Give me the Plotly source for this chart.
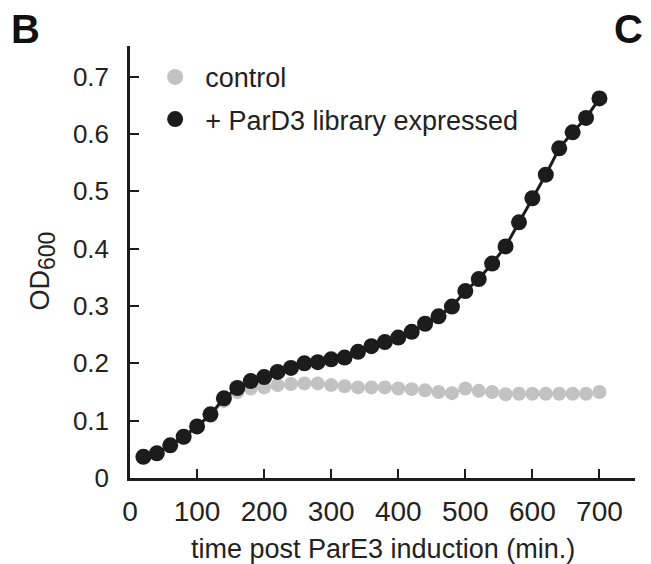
import plotly.graph_objects as go

time_min = [20, 40, 60, 80, 100, 120, 140, 160, 180, 200, 220, 240, 260, 280, 300,
            320, 340, 360, 380, 400, 420, 440, 460, 480, 500, 520, 540, 560, 580, 600,
            620, 640, 660, 680, 700]
control_od = [0.036, 0.042, 0.056, 0.070, 0.088, 0.108, 0.134, 0.150, 0.156, 0.158,
              0.162, 0.164, 0.165, 0.165, 0.162, 0.160, 0.158, 0.158, 0.158, 0.156,
              0.155, 0.153, 0.150, 0.148, 0.156, 0.152, 0.150, 0.146, 0.147, 0.147,
              0.147, 0.147, 0.147, 0.147, 0.150]
pard3_od = [0.037, 0.043, 0.057, 0.072, 0.090, 0.111, 0.139, 0.157, 0.169, 0.176,
            0.185, 0.192, 0.200, 0.202, 0.207, 0.210, 0.220, 0.230, 0.237, 0.245,
            0.255, 0.269, 0.282, 0.299, 0.326, 0.347, 0.374, 0.404, 0.446, 0.488,
            0.529, 0.575, 0.603, 0.628, 0.662]

x_ticks = [0, 100, 200, 300, 400, 500, 600, 700]
x_ticktext = ["0", "100", "200", "300", "400", "500", "600", "700"]
y_ticks = [0, 0.1, 0.2, 0.3, 0.4, 0.5, 0.6, 0.7]
y_ticktext = ["0", "0.1", "0.2", "0.3", "0.4", "0.5", "0.6", "0.7"]
x_title = "time post ParE3 induction (min.)"
y_title = "OD<sub><span style='font-size:23px'>600</span></sub>"

FONT = "Liberation Sans, Arial, Helvetica, sans-serif"
GRAY = "#c2c2c2"
BLACK = "#1c1c1c"
TXT = "#222"

fig = go.Figure()
fig.add_trace(go.Scatter(x=time_min, y=control_od, mode="lines+markers",
                         line=dict(color=GRAY, width=2),
                         marker=dict(color=GRAY, size=14),
                         showlegend=False, cliponaxis=False))
fig.add_trace(go.Scatter(x=time_min, y=pard3_od, mode="lines+markers",
                         line=dict(color=BLACK, width=3),
                         marker=dict(color=BLACK, size=16),
                         showlegend=False, cliponaxis=False))
# legend entries (markers only)
fig.add_trace(go.Scatter(x=[None], y=[None], mode="markers", name="control",
                         marker=dict(color=GRAY, size=16), legendgroup="a"))
fig.add_trace(go.Scatter(x=[None], y=[None], mode="markers",
                         name="+ ParD3 library expressed",
                         marker=dict(color=BLACK, size=18), legendgroup="b"))

axis_common = dict(showline=True, linecolor=BLACK, linewidth=2.5, ticks="inside",
                   ticklen=9, tickwidth=2, tickcolor=BLACK, showgrid=False,
                   zeroline=False)

fig.update_xaxes(range=[0, 753], tickvals=x_ticks, ticktext=x_ticktext,
                 ticklabelstandoff=7,
                 tickfont=dict(family=FONT, size=28, color=TXT),
                 **axis_common)
fig.update_yaxes(range=[0, 0.7535], tickvals=y_ticks, ticktext=y_ticktext,
                 ticklabelstandoff=13,
                 tickfont=dict(family=FONT, size=26, color=TXT),
                 **axis_common)

# page body adds an 8px offset; compensate in size and margins
fig.update_layout(
    width=643, height=556,
    margin=dict(l=122, r=16, t=38, b=86),
    paper_bgcolor="white", plot_bgcolor="white",
    font=dict(family=FONT, color=TXT),
    showlegend=True,
    legend=dict(x=0.03, y=0.984, xanchor="left", yanchor="top",
                font=dict(family=FONT, size=27, color=TXT),
                itemwidth=50, tracegroupgap=4, bgcolor="rgba(0,0,0,0)"),
    annotations=[
        dict(text=x_title, xref="paper", yref="paper", x=0.5, y=-0.1644,
             xanchor="center", yanchor="middle", showarrow=False,
             font=dict(family=FONT, size=27, color=TXT)),
        dict(text=y_title, xref="paper", yref="paper", x=-0.1733, y=0.479,
             xanchor="center", yanchor="middle", showarrow=False, textangle=-90,
             font=dict(family=FONT, size=27, color=TXT)),
        dict(text="<b>B</b>", xref="paper", yref="paper", x=-0.236, y=1.040,
             xanchor="left", yanchor="middle", showarrow=False,
             borderpad=0, borderwidth=0,
             font=dict(family=FONT, size=40, color="#111")),
        dict(text="<b>C</b>", xref="paper", yref="paper", x=0.959, y=1.040,
             xanchor="left", yanchor="middle", showarrow=False,
             borderpad=0, borderwidth=0,
             font=dict(family=FONT, size=40, color="#111")),
    ],
)

fig.write_html("out.html")
